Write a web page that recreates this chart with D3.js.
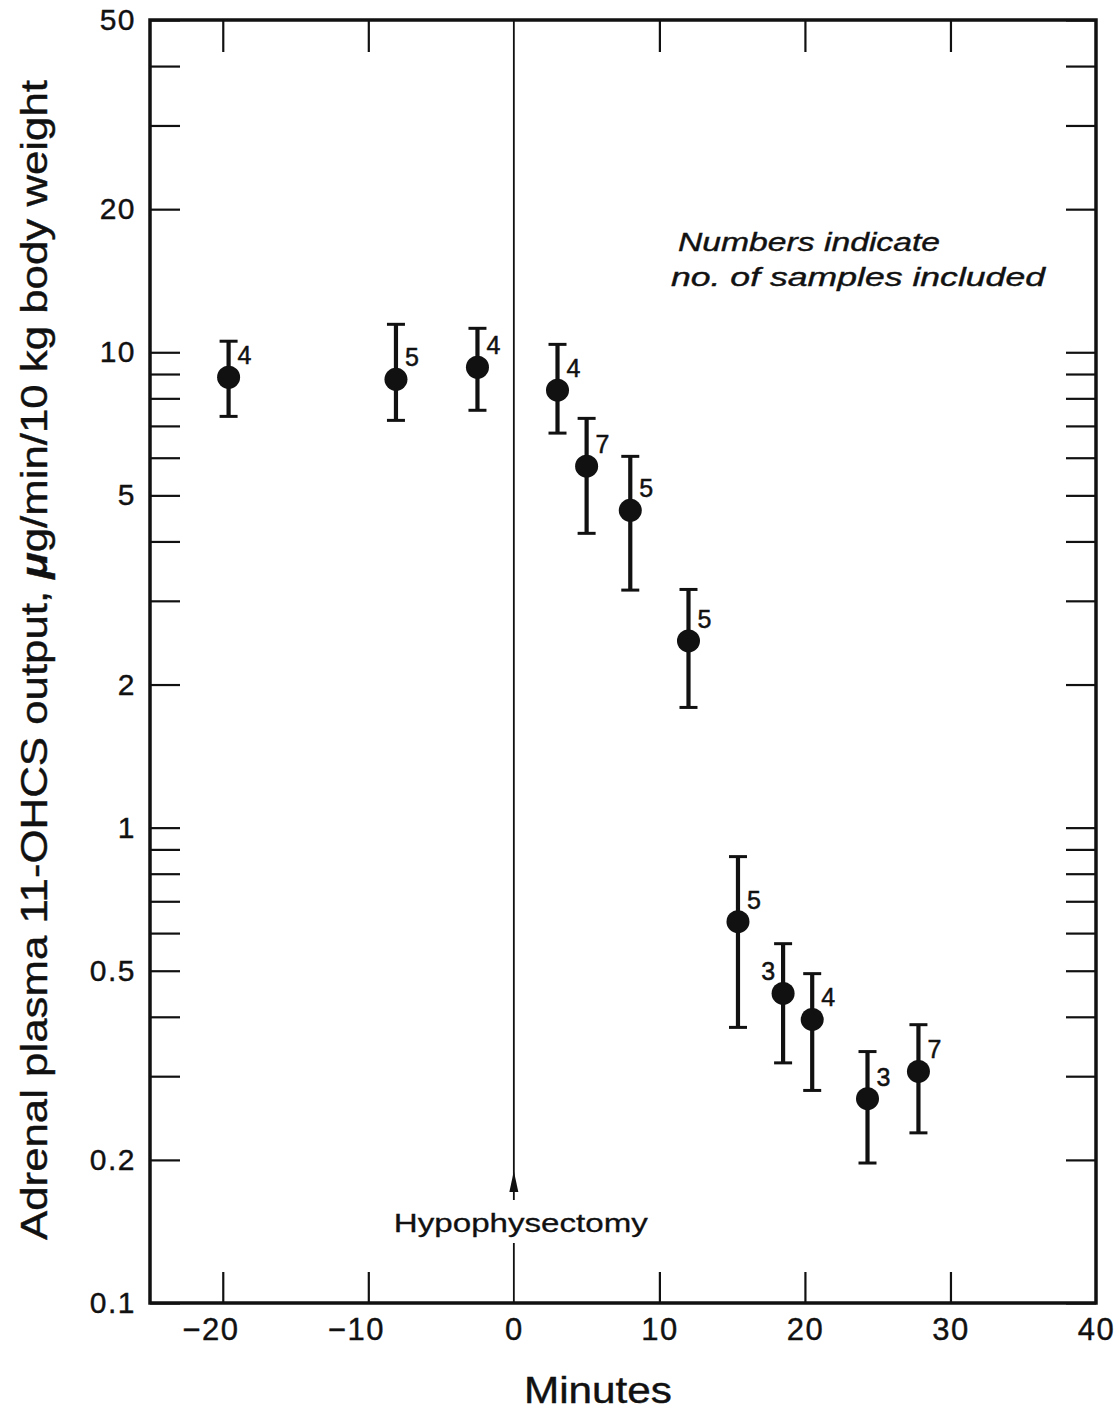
<!DOCTYPE html>
<html>
<head>
<meta charset="utf-8">
<script src="https://cdn.jsdelivr.net/npm/d3@7/dist/d3.min.js"></script>
<style>
  html, body { margin: 0; padding: 0; background: #fff; }
  svg text { font-family: "Liberation Sans", Arial, Helvetica, sans-serif; fill: #111; }
</style>
</head>
<body>
<svg id="chart" width="1119" height="1411"></svg>
<script>
// ---- data ----
const minutes   = [-19.6, -8.1, -2.5, 3, 5, 8, 12, 15.4, 18.5, 20.5, 24.3, 27.8];
const meanOut   = [8.86, 8.77, 9.30, 8.32, 5.76, 4.65, 2.47, 0.634, 0.448, 0.395, 0.269, 0.307];
const upperOut  = [10.55, 11.45, 11.23, 10.39, 7.26, 6.04, 3.17, 0.869, 0.570, 0.493, 0.338, 0.385];
const lowerOut  = [7.33, 7.19, 7.55, 6.76, 4.16, 3.16, 1.79, 0.380, 0.320, 0.280, 0.197, 0.228];
const nSamples  = [4, 5, 4, 4, 7, 5, 5, 5, 3, 4, 3, 7];

const yLabelTicks = [0.1, 0.2, 0.5, 1, 2, 5, 10, 20, 50];
const yMinorTicks = [0.3, 0.4, 0.6, 0.7, 0.8, 0.9, 3, 4, 6, 7, 8, 9, 30, 40];
const xLabelTicks = [-20, -10, 0, 10, 20, 30, 40];
const xMarkTicks  = [-20, -10, 10, 20, 30];

const xTitle = "Minutes";
const yTitleA = "Adrenal plasma 11-OHCS output, ";
const yTitleMu = "\u03bc";
const yTitleB = "g/min/10 kg body weight";
const noteLines = ["Numbers indicate", "no. of samples included"];
const eventLabel = "Hypophysectomy";

// ---- layout ----
const L = 150, R = 1096, T = 20, B = 1303;
const svg = d3.select("#chart");
const x = d3.scaleLinear().domain([-25, 40]).range([L, R]);
const y = d3.scaleLog().domain([0.1, 50]).range([B, T]);

const fmtY = d => String(d);
const fmtX = d => d < 0 ? "\u2212" + Math.abs(d) : String(d);
const ink = "#111";

// left axis
const allY = yLabelTicks.concat(yMinorTicks).sort((a, b) => a - b);
const labelSet = new Set(yLabelTicks);
const gL = svg.append("g").attr("transform", `translate(${L},0)`)
  .call(d3.axisLeft(y).tickValues(allY).tickSize(-30).tickPadding(14)
    .tickFormat(d => labelSet.has(d) ? fmtY(d) : ""));
gL.select(".domain").remove();
gL.selectAll(".tick line").attr("stroke", ink).attr("stroke-width", 2.2);
gL.selectAll(".tick text").attr("font-size", 30).attr("letter-spacing", 1.5)
  .attr("fill", ink).attr("stroke", ink).attr("stroke-width", 0.4);

// right axis
const gR = svg.append("g").attr("transform", `translate(${R},0)`)
  .call(d3.axisRight(y).tickValues(allY).tickSize(-30).tickFormat(""));
gR.select(".domain").remove();
gR.selectAll(".tick line").attr("stroke", ink).attr("stroke-width", 2.2);

// bottom axis
const gB = svg.append("g").attr("transform", `translate(0,${B})`)
  .call(d3.axisBottom(x).tickValues(xLabelTicks).tickSize(0).tickPadding(15).tickFormat(fmtX));
gB.select(".domain").remove();
gB.selectAll(".tick text").attr("font-size", 31).attr("letter-spacing", 1.5)
  .attr("fill", ink).attr("stroke", ink).attr("stroke-width", 0.4)
  .attr("dx", d => d < 0 ? "-0.4em" : 0);
const gB2 = svg.append("g").attr("transform", `translate(0,${B})`)
  .call(d3.axisBottom(x).tickValues(xMarkTicks).tickSize(-31).tickFormat(""));
gB2.select(".domain").remove();
gB2.selectAll(".tick line").attr("stroke", ink).attr("stroke-width", 2.2);

// top axis
const gT = svg.append("g").attr("transform", `translate(0,${T})`)
  .call(d3.axisTop(x).tickValues(xMarkTicks).tickSize(-32).tickFormat(""));
gT.select(".domain").remove();
gT.selectAll(".tick line").attr("stroke", ink).attr("stroke-width", 2.2);

// frame
svg.append("rect").attr("x", L).attr("y", T).attr("width", R - L).attr("height", B - T)
  .attr("fill", "none").attr("stroke", ink).attr("stroke-width", 3.5);

// hypophysectomy line at x = 0
const x0 = x(0);
svg.append("line").attr("x1", x0).attr("x2", x0).attr("y1", T).attr("y2", 1200)
  .attr("stroke", ink).attr("stroke-width", 1.8);
svg.append("line").attr("x1", x0).attr("x2", x0).attr("y1", 1243).attr("y2", B)
  .attr("stroke", ink).attr("stroke-width", 1.8);
svg.append("path").attr("d", `M${x0},1171 L${x0 - 4.5},1192 L${x0 + 4.5},1192 Z`).attr("fill", ink);
svg.append("text").attr("x", x0 + 7).attr("y", 1232).attr("text-anchor", "middle")
  .attr("font-size", 26).attr("textLength", 254).attr("lengthAdjust", "spacingAndGlyphs")
  .attr("stroke", ink).attr("stroke-width", 0.3)
  .text(eventLabel);

// note
const note = svg.append("g").attr("font-style", "italic").attr("font-size", 26)
  .attr("stroke", ink).attr("stroke-width", 0.4);
note.append("text").attr("x", 678).attr("y", 251).attr("textLength", 262).attr("lengthAdjust", "spacingAndGlyphs").text(noteLines[0]);
note.append("text").attr("x", 671).attr("y", 286).attr("textLength", 374).attr("lengthAdjust", "spacingAndGlyphs").text(noteLines[1]);

// data
const pts = minutes.map((m, i) => ({ m, v: meanOut[i], hi: upperOut[i], lo: lowerOut[i], n: nSamples[i], i }));
const leftLabeled = new Set([8]);
const capW = 9;
const gP = svg.append("g");
const pg = gP.selectAll("g").data(pts).join("g");
pg.append("line").attr("x1", d => x(d.m)).attr("x2", d => x(d.m))
  .attr("y1", d => y(d.hi)).attr("y2", d => y(d.lo)).attr("stroke", ink).attr("stroke-width", 4.2);
pg.append("line").attr("x1", d => x(d.m) - capW).attr("x2", d => x(d.m) + capW)
  .attr("y1", d => y(d.hi)).attr("y2", d => y(d.hi)).attr("stroke", ink).attr("stroke-width", 3);
pg.append("line").attr("x1", d => x(d.m) - capW).attr("x2", d => x(d.m) + capW)
  .attr("y1", d => y(d.lo)).attr("y2", d => y(d.lo)).attr("stroke", ink).attr("stroke-width", 3);
pg.append("circle").attr("cx", d => x(d.m)).attr("cy", d => y(d.v)).attr("r", 11.5).attr("fill", ink);
pg.append("text")
  .attr("x", d => leftLabeled.has(d.i) ? x(d.m) - 8 : x(d.m) + 9)
  .attr("y", d => y(d.v) - 13)
  .attr("text-anchor", d => leftLabeled.has(d.i) ? "end" : "start")
  .attr("font-size", 25).attr("stroke", ink).attr("stroke-width", 0.5)
  .text(d => d.n);

// axis titles
svg.append("text").attr("x", 598).attr("y", 1403).attr("text-anchor", "middle")
  .attr("font-size", 36).attr("textLength", 148).attr("lengthAdjust", "spacingAndGlyphs")
  .attr("stroke", ink).attr("stroke-width", 0.4).text(xTitle);
const yt = svg.append("text").attr("transform", `translate(47,660) rotate(-90)`)
  .attr("text-anchor", "middle").attr("font-size", 37)
  .attr("stroke", ink).attr("stroke-width", 0.4)
  .attr("textLength", 1160).attr("lengthAdjust", "spacingAndGlyphs");
yt.append("tspan").text(yTitleA);
yt.append("tspan").attr("font-style", "italic").attr("font-weight", "bold").text(yTitleMu);
yt.append("tspan").text(yTitleB);
</script>
</body>
</html>
